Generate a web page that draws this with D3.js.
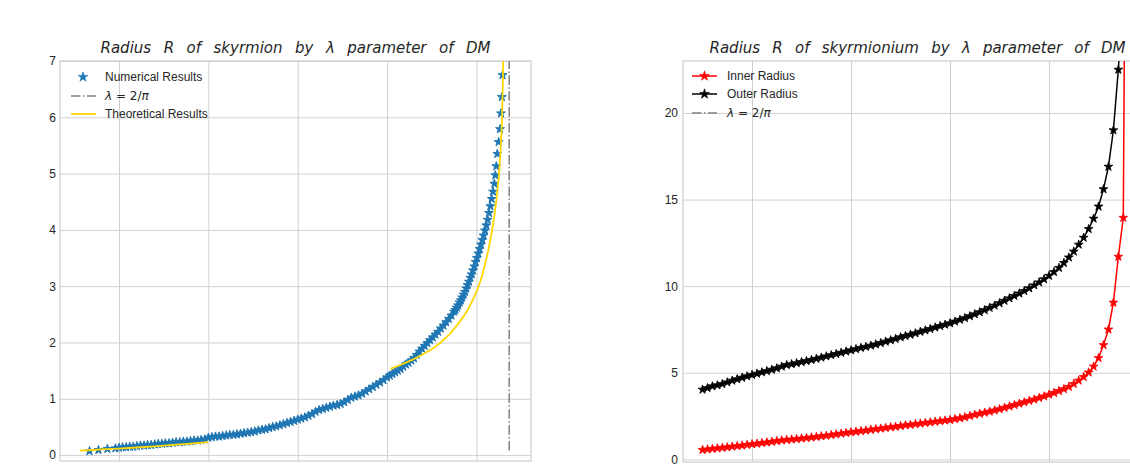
<!DOCTYPE html>
<html lang="en">
<head>
<meta charset="utf-8">
<script src="https://cdnjs.cloudflare.com/ajax/libs/d3/7.8.5/d3.min.js"></script>
<style>
  body { margin: 0; background: #fff; }
  text { fill: #262626; }
</style>
</head>
<body>
<div id="chart"></div>
<script>
  // ---- left panel: skyrmion radius vs lambda ----
  const numLambda = [0.167, 0.177, 0.187, 0.196,
    0.200, 0.204, 0.208, 0.212, 0.216, 0.220, 0.224, 0.228, 0.232, 0.236, 0.240, 0.244, 0.248,
    0.252, 0.256, 0.260, 0.264, 0.268, 0.272, 0.276, 0.280, 0.284, 0.288, 0.292, 0.296,
    0.300, 0.304, 0.308, 0.312, 0.316, 0.320, 0.324, 0.328, 0.332, 0.336, 0.340, 0.344, 0.348,
    0.352, 0.356, 0.360, 0.364, 0.368, 0.372, 0.376, 0.380, 0.384, 0.388, 0.392, 0.396, 0.400,
    0.404, 0.408, 0.412, 0.416, 0.420, 0.424, 0.428, 0.432, 0.436, 0.440, 0.444, 0.448, 0.452,
    0.456, 0.460, 0.464, 0.468, 0.472, 0.476, 0.480, 0.484, 0.488, 0.492, 0.496, 0.500,
    0.503, 0.506, 0.509, 0.512, 0.515, 0.518, 0.521, 0.524, 0.527, 0.530, 0.533, 0.536, 0.539,
    0.542, 0.545, 0.548, 0.551, 0.554, 0.557, 0.560, 0.563, 0.566, 0.569, 0.572,
    0.5750, 0.5765, 0.5780, 0.5795, 0.5810, 0.5825, 0.5840, 0.5855, 0.5870, 0.5885, 0.5900,
    0.5915, 0.5930, 0.5945, 0.5960, 0.5975, 0.5990, 0.6005, 0.6020, 0.6035, 0.6050, 0.6065,
    0.6080, 0.6095, 0.6110,
    0.6125, 0.6140, 0.6155, 0.6170, 0.6185, 0.6200, 0.6211, 0.6222, 0.6233, 0.6248, 0.6263,
    0.6274, 0.6284, 0.6292];
  const numRadius = [0.07, 0.09, 0.11, 0.12,
    0.13, 0.14, 0.14, 0.15, 0.15, 0.16, 0.17, 0.17, 0.18, 0.18, 0.19, 0.20, 0.20,
    0.21, 0.21, 0.22, 0.23, 0.23, 0.24, 0.24, 0.25, 0.26, 0.26, 0.27, 0.28,
    0.31, 0.32, 0.33, 0.33, 0.34, 0.35, 0.36, 0.36, 0.37, 0.38, 0.39, 0.40, 0.41,
    0.42, 0.44, 0.45, 0.46, 0.48, 0.50, 0.51, 0.53, 0.55, 0.57, 0.59, 0.61, 0.63,
    0.65, 0.67, 0.70, 0.73, 0.77, 0.80, 0.82, 0.84, 0.86, 0.88, 0.89, 0.91, 0.94,
    0.98, 1.02, 1.04, 1.06, 1.09, 1.13, 1.17, 1.21, 1.25, 1.29, 1.33, 1.38,
    1.41, 1.44, 1.47, 1.50, 1.53, 1.57, 1.61, 1.64, 1.68, 1.72, 1.78, 1.84, 1.89,
    1.94, 1.99, 2.04, 2.09, 2.14, 2.19, 2.25, 2.30, 2.36, 2.42, 2.48,
    2.55, 2.58, 2.62, 2.66, 2.71, 2.75, 2.80, 2.85, 2.90, 2.96, 3.02,
    3.08, 3.15, 3.21, 3.28, 3.35, 3.43, 3.50, 3.58, 3.66, 3.74, 3.82,
    3.90, 3.99, 4.08,
    4.18, 4.30, 4.42, 4.55, 4.68, 4.82, 4.97, 5.13, 5.35, 5.56, 5.79,
    6.07, 6.36, 6.75];

  const theoryLowLambda = [0.156, 0.17, 0.18, 0.20, 0.22, 0.24, 0.26, 0.28, 0.30];
  const theoryLowRadius = [0.08, 0.09, 0.10, 0.115, 0.135, 0.155, 0.18, 0.205, 0.23];
  const theoryHighLambda = [0.5035, 0.515, 0.528, 0.540, 0.550, 0.560, 0.570, 0.578, 0.585, 0.591,
    0.596, 0.601, 0.605, 0.609, 0.613, 0.617, 0.620, 0.623, 0.625, 0.627, 0.6285, 0.6295, 0.6302];
  const theoryHighRadius = [1.53, 1.60, 1.69, 1.79, 1.88, 2.00, 2.15, 2.30, 2.45, 2.60,
    2.76, 2.94, 3.12, 3.35, 3.62, 3.95, 4.25, 4.62, 4.95, 5.40, 5.95, 6.60, 7.30];

  const criticalLambda = 2 / Math.PI;
  const vlineRadius = [0.08, 7.5];

  const leftXTicks = [0.2, 0.3, 0.4, 0.5, 0.6];
  const leftYTicks = [0, 1, 2, 3, 4, 5, 6, 7];

  // ---- right panel: skyrmionium radii vs lambda ----
  const ringLambda = [0.150, 0.155, 0.160, 0.165, 0.170, 0.175, 0.180, 0.185, 0.190, 0.195,
    0.200, 0.205, 0.210, 0.215, 0.220, 0.225, 0.230, 0.235, 0.240, 0.245,
    0.250, 0.255, 0.260, 0.265, 0.270, 0.275, 0.280, 0.285, 0.290, 0.295,
    0.300, 0.305, 0.310, 0.315, 0.320, 0.325, 0.330, 0.335, 0.340, 0.345,
    0.350, 0.355, 0.360, 0.365, 0.370, 0.375, 0.380, 0.385, 0.390, 0.395,
    0.400, 0.405, 0.410, 0.415, 0.420, 0.425, 0.430, 0.435, 0.440, 0.445,
    0.450, 0.455, 0.460, 0.465, 0.470, 0.475, 0.480, 0.485, 0.490, 0.495,
    0.500, 0.505, 0.510, 0.515, 0.520, 0.525, 0.530, 0.535, 0.540, 0.545,
    0.550, 0.555, 0.560, 0.565, 0.570, 0.575, 0.580];
  const innerRadius = [0.55, 0.58, 0.61, 0.64, 0.67, 0.70, 0.74, 0.77, 0.80, 0.84,
    0.88, 0.91, 0.95, 0.98, 1.02, 1.06, 1.10, 1.13, 1.15, 1.18,
    1.21, 1.24, 1.27, 1.30, 1.34, 1.37, 1.41, 1.45, 1.49, 1.53,
    1.57, 1.60, 1.64, 1.67, 1.71, 1.75, 1.78, 1.82, 1.86, 1.89,
    1.93, 1.97, 2.00, 2.04, 2.07, 2.11, 2.14, 2.18, 2.21, 2.25,
    2.28, 2.33, 2.38, 2.44, 2.51, 2.58, 2.64, 2.70, 2.76, 2.83,
    2.90, 2.98, 3.06, 3.14, 3.22, 3.30, 3.38, 3.46, 3.55, 3.64,
    3.74, 3.84, 3.95, 4.06, 4.19, 4.36, 4.55, 4.76, 5.02, 5.36,
    5.85, 6.60, 7.50, 9.05, 11.70, 13.95, 59.0];
  const outerRadius = [4.03, 4.12, 4.22, 4.28, 4.35, 4.45, 4.55, 4.63, 4.72, 4.80,
    4.88, 4.95, 5.03, 5.10, 5.18, 5.26, 5.36, 5.45, 5.50, 5.56,
    5.62, 5.68, 5.74, 5.81, 5.88, 5.95, 6.02, 6.09, 6.16, 6.23,
    6.30, 6.37, 6.44, 6.50, 6.57, 6.64, 6.72, 6.80, 6.88, 6.96,
    7.05, 7.13, 7.20, 7.28, 7.37, 7.45, 7.53, 7.62, 7.70, 7.78,
    7.86, 7.96, 8.06, 8.16, 8.27, 8.38, 8.50, 8.62, 8.75, 8.88,
    9.02, 9.16, 9.30, 9.44, 9.58, 9.72, 9.88, 10.05, 10.22, 10.40,
    10.60, 10.82, 11.06, 11.34, 11.66, 12.00, 12.40, 12.80, 13.30, 13.90,
    14.60, 15.60, 16.90, 19.00, 22.50, 27.0, 45.0];

  const rightXTicks = [0.2, 0.3, 0.4, 0.5, 0.6];
  const rightYTicks = [0, 5, 10, 15, 20];

  const svgWidth = 1130, svgHeight = 464;
  const gridColor = "#d0d0d0";
  const dashDot = "9.6,2.4,1.5,2.4";
  const mathFont = "'DejaVu Sans', sans-serif";
  const textFont = "'Liberation Sans', Arial, sans-serif";

  const svg = d3.select("#chart")
    .append("svg")
    .attr("width", svgWidth)
    .attr("height", svgHeight);

  // builds one axes box: grid, spines, y labels, title, clip region
  function makePanel(id, box, xDomain, yDomain, xTicks, yTicks, title, titleWidth, labelPad) {
    const x = d3.scaleLinear().domain(xDomain).range([box.left, box.right]);
    const y = d3.scaleLinear().domain(yDomain).range([box.bottom, box.top]);
    const h = box.bottom - box.top, w = box.right - box.left;
    const g = svg.append("g");

    svg.append("clipPath").attr("id", id)
      .append("rect")
      .attr("x", box.left).attr("y", box.top)
      .attr("width", w).attr("height", h);

    // vertical grid
    const gx = g.append("g")
      .attr("transform", "translate(0," + box.bottom + ")")
      .call(d3.axisBottom(x).tickValues(xTicks).tickSize(-h).tickFormat(""));
    gx.select(".domain").remove();
    gx.selectAll("line").attr("stroke", gridColor).attr("stroke-width", 1);

    // horizontal grid
    const gy = g.append("g")
      .attr("transform", "translate(" + box.left + ",0)")
      .call(d3.axisLeft(y).tickValues(yTicks).tickSize(-w).tickFormat(""));
    gy.select(".domain").remove();
    gy.selectAll("line").attr("stroke", gridColor).attr("stroke-width", 1);

    // y tick labels
    const gl = g.append("g")
      .attr("transform", "translate(" + box.left + ",0)")
      .call(d3.axisLeft(y).tickValues(yTicks).tickSize(0).tickPadding(labelPad).tickFormat(d3.format("d")));
    gl.select(".domain").remove();
    gl.selectAll("text")
      .style("font-family", textFont)
      .style("font-size", "12px")
      .attr("fill", "#333");

    // spines
    g.append("rect")
      .attr("x", box.left).attr("y", box.top)
      .attr("width", w).attr("height", h)
      .attr("fill", "none")
      .attr("stroke", gridColor)
      .attr("stroke-width", 1.25);

    // title, spread like the mathtext spacing
    const cx = (box.left + box.right) / 2;
    const t = svg.append("text")
      .attr("y", 53)
      .attr("x", cx - titleWidth / 2)
      .style("font-family", mathFont)
      .style("font-style", "italic")
      .style("font-size", "15px")
      .text(title);
    const natural = t.node().getComputedTextLength();
    const gaps = title.split(" ").length - 1;
    t.style("word-spacing", ((titleWidth - natural) / gaps) + "px");

    const plot = svg.append("g").attr("clip-path", "url(#" + id + ")");
    return {x, y, plot};
  }

  function lambdaLabel(sel) {
    sel.style("font-family", mathFont).style("font-size", "12px");
    sel.append("tspan").style("font-style", "italic").text("λ");
    sel.append("tspan").text(" = 2/");
    sel.append("tspan").style("font-style", "italic").text("π");
  }

  const star = d3.symbol().type(d3.symbolStar).size(24);
  const starLegend = d3.symbol().type(d3.symbolStar).size(30);

  // ================= left panel =================
  const L = makePanel("clipL", {left: 60, top: 61, right: 531, bottom: 461},
    [0.134, 0.661], [-0.105, 7], leftXTicks, leftYTicks,
    "Radius R of skyrmion by λ parameter of DM", 390, 4);

  const numPts = numLambda.map((d, i) => [d, numRadius[i]]);
  L.plot.append("g").selectAll("path").data(numPts).enter().append("path")
    .attr("d", star)
    .attr("transform", d => "translate(" + L.x(d[0]) + "," + L.y(d[1]) + ")")
    .attr("fill", "#1f77b4")
    .attr("stroke", "#1f77b4")
    .attr("stroke-width", 1);

  const lineL = d3.line().x(d => L.x(d[0])).y(d => L.y(d[1]));

  L.plot.append("path")
    .datum(vlineRadius.map(r => [criticalLambda, r]))
    .attr("d", lineL)
    .attr("fill", "none")
    .attr("stroke", "#808080")
    .attr("stroke-width", 1.5)
    .attr("stroke-dasharray", dashDot);

  [[theoryLowLambda, theoryLowRadius], [theoryHighLambda, theoryHighRadius]].forEach(s => {
    L.plot.append("path")
      .datum(s[0].map((d, i) => [d, s[1][i]]))
      .attr("d", lineL)
      .attr("fill", "none")
      .attr("stroke", "#ffd700")
      .attr("stroke-width", 1.8);
  });

  // left legend
  const legL = svg.append("g");
  legL.append("path").attr("d", starLegend)
    .attr("transform", "translate(83,77)")
    .attr("fill", "#1f77b4").attr("stroke", "#1f77b4").attr("stroke-width", 0.6);
  legL.append("text").attr("x", 105).attr("y", 81)
    .style("font-family", textFont).style("font-size", "12px").text("Numerical Results");
  legL.append("line").attr("x1", 71).attr("x2", 96).attr("y1", 96).attr("y2", 96)
    .attr("stroke", "#808080").attr("stroke-width", 1.5).attr("stroke-dasharray", dashDot);
  legL.append("text").attr("x", 105).attr("y", 100).call(lambdaLabel);
  legL.append("line").attr("x1", 71).attr("x2", 96).attr("y1", 114).attr("y2", 114)
    .attr("stroke", "#ffd700").attr("stroke-width", 1.8);
  legL.append("text").attr("x", 105).attr("y", 118)
    .style("font-family", textFont).style("font-size", "12px").text("Theoretical Results");

  // ================= right panel =================
  const R = makePanel("clipR", {left: 683, top: 61, right: 1152, bottom: 462},
    [0.1303, 0.604], [-0.15, 23], rightXTicks, rightYTicks,
    "Radius R of skyrmionium by λ parameter of DM", 416, 5);

  const lineR = d3.line().x(d => R.x(d[0])).y(d => R.y(d[1]));

  R.plot.append("path")
    .datum([[criticalLambda, 0], [criticalLambda, 23]])
    .attr("d", lineR)
    .attr("fill", "none")
    .attr("stroke", "#808080")
    .attr("stroke-width", 1.5)
    .attr("stroke-dasharray", dashDot);

  [[innerRadius, "#ff0000"], [outerRadius, "#000000"]].forEach(s => {
    const pts = ringLambda.map((d, i) => [d, s[0][i]]);
    R.plot.append("path")
      .datum(pts)
      .attr("d", lineR)
      .attr("fill", "none")
      .attr("stroke", s[1])
      .attr("stroke-width", 1.5);
    R.plot.append("g").selectAll("path").data(pts).enter().append("path")
      .attr("d", star)
      .attr("transform", d => "translate(" + R.x(d[0]) + "," + R.y(d[1]) + ")")
      .attr("fill", s[1])
      .attr("stroke", s[1])
      .attr("stroke-width", 0.8);
  });

  // right legend
  const legR = svg.append("g");
  [["Inner Radius", "#ff0000", 76], ["Outer Radius", "#000000", 94]].forEach(r => {
    legR.append("line").attr("x1", 692).attr("x2", 717).attr("y1", r[2]).attr("y2", r[2])
      .attr("stroke", r[1]).attr("stroke-width", 1.5);
    legR.append("path").attr("d", starLegend)
      .attr("transform", "translate(704.5," + r[2] + ")")
      .attr("fill", r[1]).attr("stroke", r[1]).attr("stroke-width", 0.6);
    legR.append("text").attr("x", 727).attr("y", r[2] + 4)
      .style("font-family", textFont).style("font-size", "12px").text(r[0]);
  });
  legR.append("line").attr("x1", 692).attr("x2", 717).attr("y1", 113).attr("y2", 113)
    .attr("stroke", "#808080").attr("stroke-width", 1.5).attr("stroke-dasharray", dashDot);
  legR.append("text").attr("x", 727).attr("y", 117).call(lambdaLabel);
</script>
</body>
</html>
